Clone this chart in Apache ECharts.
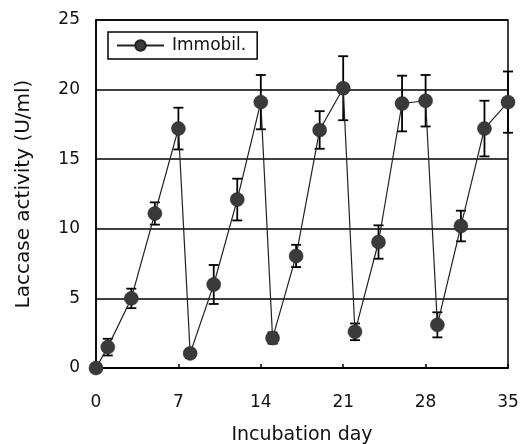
<!DOCTYPE html>
<html>
<head>
<meta charset="utf-8">
<script src="https://cdn.jsdelivr.net/npm/echarts@6/dist/echarts.min.js"></script>
<style>html,body{margin:0;padding:0;background:#fff}#c{width:521px;height:444px}</style>
</head>
<body>
<div id="c"></div>
<script>
var days = [0, 1, 3, 5, 7, 8, 10, 12, 14, 15, 17, 19, 21, 22, 24, 26, 28, 29, 31, 33, 35];
var activity = [0, 1.5, 5.0, 11.1, 17.2, 1.05, 6.0, 12.1, 19.1, 2.15, 8.05, 17.1, 20.1, 2.6, 9.05, 19.0, 19.2, 3.1, 10.2, 17.2, 19.1];
var errors = [0, 0.6, 0.7, 0.8, 1.5, 0.3, 1.4, 1.5, 1.95, 0.4, 0.8, 1.35, 2.3, 0.6, 1.2, 2.0, 1.85, 0.9, 1.1, 2.0, 2.2];
var xTicks = [0, 7, 14, 21, 28, 35];
var yTicks = [0, 5, 10, 15, 20, 25];
var seriesName = 'Immobil.';

var lineData = days.map(function (d, i) { return [d, activity[i]]; });
var errData = days.map(function (d, i) { return [d, activity[i] - errors[i], activity[i] + errors[i]]; });

var font = 'DejaVu Sans, Verdana, sans-serif';
var chart = echarts.init(document.getElementById('c'), null, {renderer: 'canvas'});
chart.setOption({
  animation: false,
  backgroundColor: '#fff',
  grid: {left: 96, right: 13, top: 20, bottom: 76, show: true, borderColor: '#000', borderWidth: 1.5,
    backgroundColor: 'transparent', containLabel: false, outerBoundsMode: 'none'},
  legend: {
    left: 108, top: 32, orient: 'horizontal',
    data: [seriesName],
    borderColor: '#000', borderWidth: 1.5, borderRadius: 0,
    padding: [5, 11, 5, 8],
    itemWidth: 47, itemHeight: 13, itemGap: 5,
    textStyle: {fontFamily: font, fontSize: 17, color: '#111', padding: [0, 0, 0, 3]}
  },
  xAxis: {
    type: 'value', min: 0, max: 35, interval: 7,
    name: 'Incubation day', nameLocation: 'middle', nameGap: 58,
    nameTextStyle: {fontFamily: font, fontSize: 19, color: '#111'},
    axisLine: {show: true, lineStyle: {color: '#000', width: 1.5}},
    axisTick: {show: true, inside: true, length: 4, lineStyle: {color: '#000', width: 1.5}},
    axisLabel: {fontFamily: font, fontSize: 17, color: '#111', margin: 26,
      formatter: function (v) { return xTicks.indexOf(v) >= 0 ? String(v) : ''; }},
    splitLine: {show: false}
  },
  yAxis: {
    type: 'value', min: 0, max: 25, interval: 5,
    name: 'Laccase activity (U/ml)', nameLocation: 'middle', nameGap: 62, nameRotate: 90,
    nameTextStyle: {fontFamily: font, fontSize: 20, color: '#111'},
    axisLine: {show: true, lineStyle: {color: '#000', width: 1.5}},
    axisTick: {show: false},
    axisLabel: {fontFamily: font, fontSize: 17, color: '#111', margin: 16,
      formatter: function (v) { return yTicks.indexOf(v) >= 0 ? String(v) : ''; }},
    splitLine: {show: true, lineStyle: {color: '#000', width: 1.5}}
  },
  series: [
    {
      type: 'custom',
      name: 'err',
      clip: false,
      z: 3,
      data: errData,
      renderItem: function (params, api) {
        var x = api.value(0);
        var lo = api.coord([x, api.value(1)]);
        var hi = api.coord([x, api.value(2)]);
        var w = 5;
        var st = {stroke: '#000', lineWidth: 1.8};
        return {
          type: 'group',
          children: [
            {type: 'line', shape: {x1: lo[0], y1: lo[1], x2: hi[0], y2: hi[1]}, style: st},
            {type: 'line', shape: {x1: lo[0] - w, y1: lo[1], x2: lo[0] + w, y2: lo[1]}, style: st},
            {type: 'line', shape: {x1: hi[0] - w, y1: hi[1], x2: hi[0] + w, y2: hi[1]}, style: st}
          ]
        };
      }
    },
    {
      type: 'line',
      name: seriesName,
      data: lineData,
      clip: false,
      z: 4,
      symbol: 'circle',
      symbolSize: 14,
      lineStyle: {color: '#222', width: 1.2},
      itemStyle: {color: '#3a3a3a', borderColor: '#222', borderWidth: 0.5}
    }
  ]
});
</script>
</body>
</html>
